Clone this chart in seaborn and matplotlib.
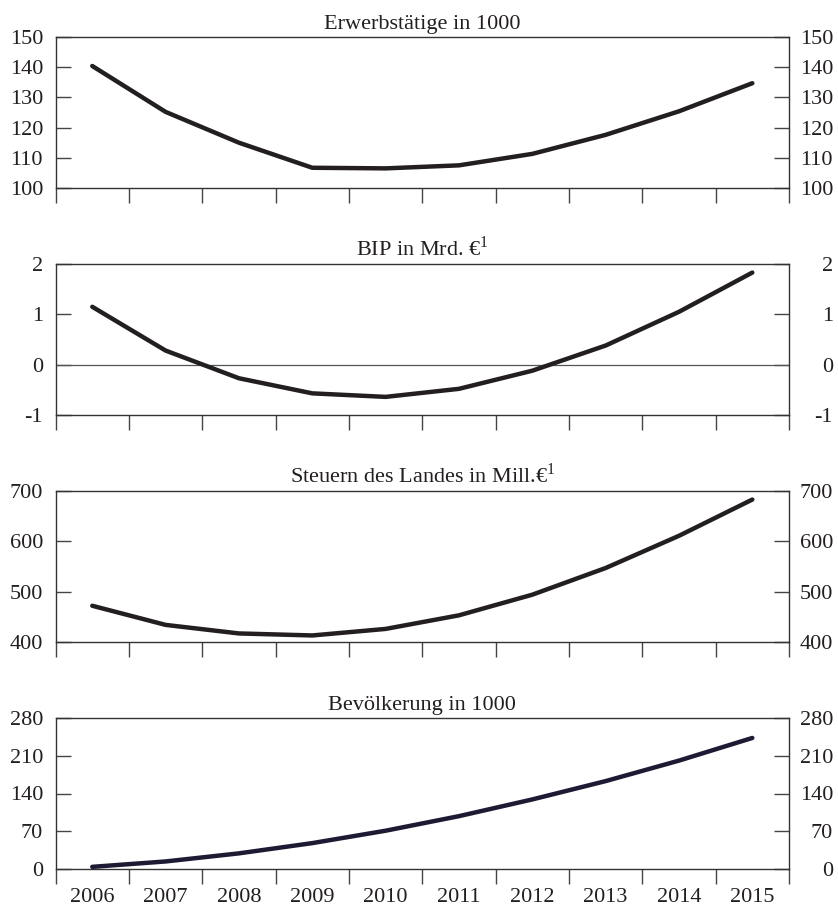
import numpy as np
import pandas as pd
import seaborn as sns
import matplotlib
matplotlib.use("Agg")
import matplotlib.pyplot as plt
import matplotlib.transforms as mtrans
from matplotlib.ticker import FixedLocator, NullFormatter

# Daten
jahre = [2006, 2007, 2008, 2009, 2010, 2011, 2012, 2013, 2014, 2015]
erwerbstaetige = [140.4, 125.2, 115.0, 106.7, 106.5, 107.5, 111.3, 117.6, 125.4, 134.7]
bip = [1.15, 0.28, -0.27, -0.57, -0.64, -0.48, -0.12, 0.38, 1.05, 1.83]
steuern = [472, 434, 417, 413, 426, 453, 494, 547, 611, 683]
bevoelkerung = [4, 14, 29, 48, 71, 98, 129, 163, 201, 243]

titel = ["Erwerbstätige in 1000", "BIP in Mrd. €$^{\\mathregular{1}}$",
         "Steuern des Landes in Mill.€$^{\\mathregular{1}}$", "Bevölkerung in 1000"]
yticks = [[100, 110, 120, 130, 140, 150], [-1, 0, 1, 2],
          [400, 500, 600, 700], [0, 70, 140, 210, 280]]
farben = ["#231f20", "#231f20", "#231f20", "#1d1b33"]

sns.set_theme(style="white")
plt.rcParams["font.family"] = ["Liberation Serif", "DejaVu Serif"]
plt.rcParams["mathtext.fontset"] = "custom"
plt.rcParams["mathtext.rm"] = "Liberation Serif"

fs = 16
fig = plt.figure(figsize=(8.38, 9.10), dpi=100)
W, H = 838, 910
left, width = 55.6, 733.4
bottoms = [188, 415, 642, 869]   # untere Kante jedes Panels in Pixel
hoehe = 151

serien = [erwerbstaetige, bip, steuern, bevoelkerung]
for i, werte in enumerate(serien):
    ax = fig.add_axes([left / W, (H - bottoms[i]) / H, width / W, hoehe / H])
    df = pd.DataFrame({"jahr": jahre, "wert": werte})
    if i == 1:
        ax.axhline(0, color="#555555", lw=0.9, zorder=1)
    sns.lineplot(data=df, x="jahr", y="wert", ax=ax, color=farben[i], lw=3.2,
                 zorder=3)
    ax.set_xlim(2005.5, 2015.5)
    ax.set_ylim(yticks[i][0], yticks[i][-1])
    ax.set_xlabel("")
    ax.set_ylabel("")
    for s in ax.spines.values():
        s.set_color("#333333")
        s.set_linewidth(1.0)

    # x: Striche an den Jahresgrenzen, Beschriftung in der Mitte
    ax.xaxis.set_major_locator(FixedLocator(np.arange(2005.5, 2016, 1.0)))
    ax.xaxis.set_major_formatter(NullFormatter())
    ax.tick_params(axis="x", which="major", direction="out", length=11,
                   width=1.0, color="#444444", bottom=True, top=False)
    if i == 3:
        ax.set_xticks(jahre, minor=True)
        ax.set_xticklabels([str(j) for j in jahre], minor=True)
        ax.tick_params(axis="x", which="minor", length=0, pad=14,
                       labelsize=fs, colors="#231f20")
    else:
        ax.set_xticks([], minor=True)

    # y: Striche nach innen, links und rechts
    ax.set_yticks(yticks[i])
    ax.set_yticklabels([str(v) for v in yticks[i]])
    ax.tick_params(axis="y", direction="in", length=11, width=1.0,
                   color="#444444", left=True, right=True, labelleft=True,
                   labelright=True, labelsize=fs, labelcolor="#231f20", pad=9)
    # rechte Beschriftung rechtsbündig
    off = mtrans.ScaledTranslation(44 / 100, 0, fig.dpi_scale_trans)
    for t in ax.yaxis.get_major_ticks():
        t.label2.set_horizontalalignment("right")
        t.label2.set_transform(ax.get_yaxis_transform(which="tick2") + off)

    ax.set_title(titel[i], fontsize=fs, pad=6, color="#231f20")

plt.savefig("out.png", dpi=100)
